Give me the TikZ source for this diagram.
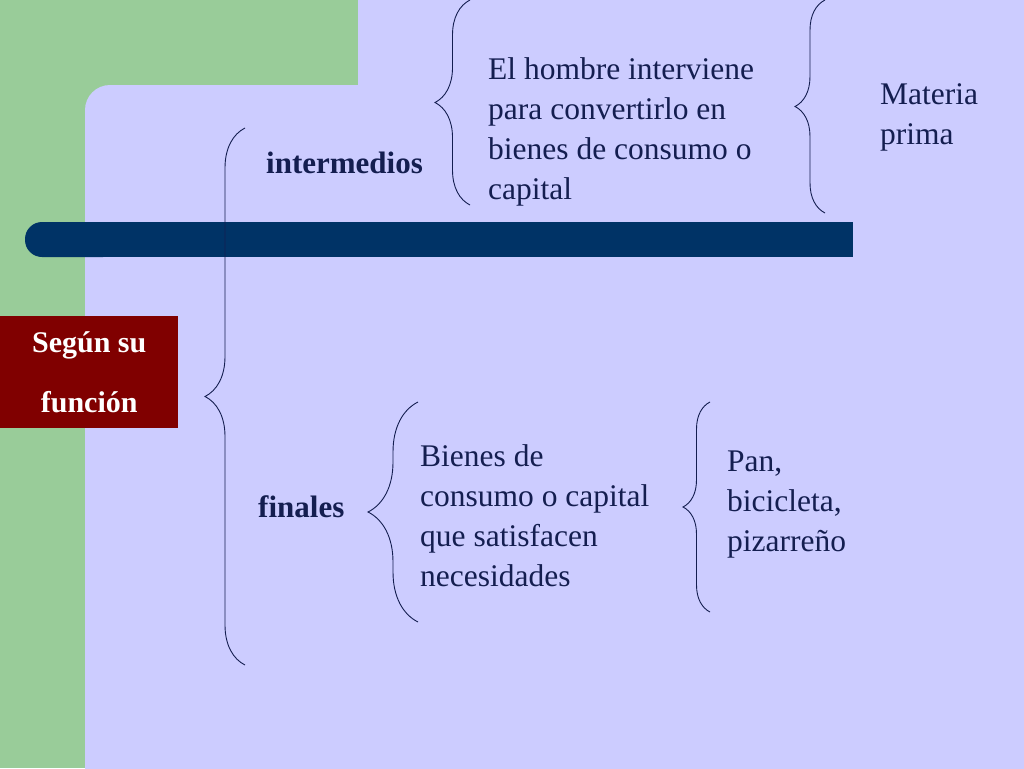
\documentclass[tikz,border=0pt]{standalone}
\usepackage{fontspec}
\setmainfont{Liberation Serif}
\usetikzlibrary{decorations.pathreplacing}
\definecolor{slidegreen}{RGB}{153,204,153}
\definecolor{slidelav}{RGB}{204,204,255}
\definecolor{slidebar}{RGB}{0,51,102}
\definecolor{slidered}{RGB}{128,0,0}
\definecolor{slidetext}{RGB}{20,30,80}
\tikzset{
  bracestyle/.style={draw=slidetext,line width=0.9pt,decorate,decoration={brace,amplitude=#1}},
  txt/.style={text=slidetext,font=\fontsize{31.5}{40}\selectfont,align=left,inner sep=0pt,anchor=west},
  head/.style={txt,font=\fontsize{31}{40}\selectfont\bfseries},
}
\begin{document}
\begin{tikzpicture}[x=1pt,y=-1pt]
  \useasboundingbox (0,0) rectangle (1024,768);
  % background
  \fill[slidegreen] (0,0) rectangle (1024,768);
  \fill[slidelav] (358,0) rectangle (1024,768);
  \fill[slidelav,rounded corners=25pt] (85,85) rectangle (1100,800);
  \fill[slidebar,rounded corners=17pt] (25,222) rectangle (120,257);
  \fill[slidebar] (60,222) rectangle (853,257);
  % title box
  \node[fill=slidered,text=white,minimum width=178pt,minimum height=112pt,inner sep=0pt,
        font=\fontsize{30}{60}\selectfont\bfseries,align=center,anchor=north west]
        (tema) at (0,316) {Según su\\función};
  % braces
  \draw[bracestyle=40pt] (245,665) -- (245,128);
  \draw[bracestyle=35pt] (470,205) -- (470,0);
  \draw[bracestyle=30pt] (825,213) -- (825,0);
  \draw[bracestyle=50pt] (418,622) -- (418,402);
  \draw[bracestyle=27pt] (710,612) -- (710,402);
  % texts
  \node[head] (inter) at (266,163) {intermedios};
  \node[head] (fin) at (258,507) {finales};
  \node[txt] (hombre) at (488,132) {El hombre interviene\\para convertirlo en\\bienes de consumo o\\capital};
  \node[txt] (materia) at (880,117) {Materia\\prima};
  \node[txt] (bienes) at (420,516) {Bienes de\\consumo o capital\\que satisfacen\\necesidades};
  \node[txt] (pan) at (727,505) {Pan,\\bicicleta,\\pizarreño};
\end{tikzpicture}
\end{document}
